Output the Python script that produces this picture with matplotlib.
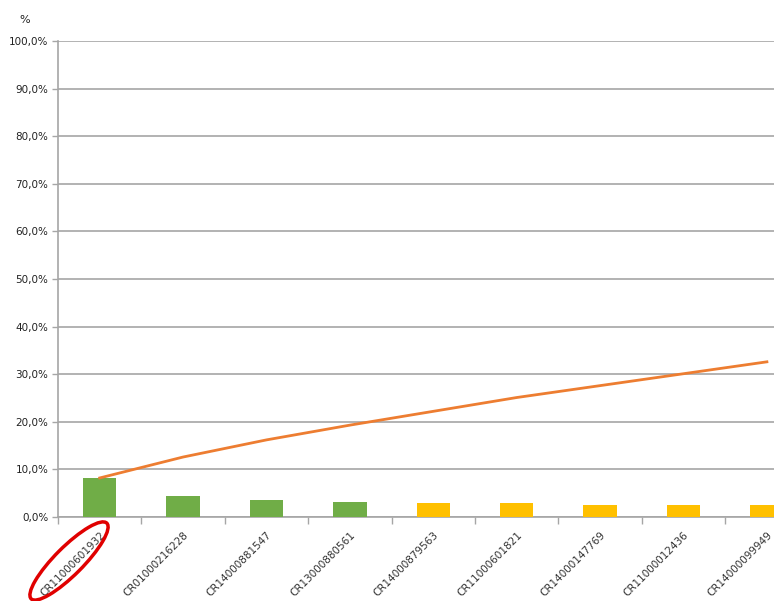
import matplotlib
matplotlib.use("Agg")
import matplotlib.pyplot as plt
from matplotlib.patches import Ellipse
import numpy as np

categories = ["CR11000601932", "CR01000216228", "CR14000881547", "CR13000880561",
              "CR14000879563", "CR11000601821", "CR14000147769", "CR11000012436",
              "CR14000099949"]
values = [8.2, 4.4, 3.6, 3.1, 2.9, 2.9, 2.5, 2.5, 2.5]
cumulative = [8.2, 12.6, 16.2, 19.3, 22.2, 25.1, 27.6, 30.1, 32.6]
bar_colors = ["#70AD47"] * 4 + ["#FFC000"] * 5
ytick_vals = list(range(0, 101, 10))
ytick_labels = [f"{v},0%" for v in ytick_vals]

fig = plt.figure(figsize=(7.74, 6.01), dpi=100)
ax = fig.add_axes([58/774, (601-517)/601, 1 - 58/774, (517-41)/601])

x = np.arange(len(categories))
ax.bar(x, values, width=0.4, color=bar_colors, zorder=3)
ax.plot(x, cumulative, color="#ED7D31", lw=2, zorder=4)

ax.set_yticks(ytick_vals)
ax.set_yticklabels(ytick_labels, fontsize=7.5, color="#222222")
ax.yaxis.grid(True, color="#A6A6A6", lw=1.2, zorder=0)
ax.set_axisbelow(True)

ax.set_xticks(x)
ax.set_xticklabels(categories, rotation=45, ha="right", rotation_mode="anchor",
                   fontsize=7.5, color="#333333")
ax.set_xticks(np.arange(-0.5, len(categories) + 0.5, 1), minor=True)
ax.tick_params(axis="x", which="major", length=0, pad=9)
ax.tick_params(axis="x", which="minor", length=5, color="#A6A6A6", width=1)
ax.tick_params(axis="y", length=4, color="#A6A6A6", width=1, pad=3)

ax.set_ylim(0, 100)
ax.set_xlim(-0.5, -0.5 + (774-58)/83.4)

for s in ["top", "right"]:
    ax.spines[s].set_visible(False)
ax.spines["left"].set_color("#A6A6A6")
ax.spines["bottom"].set_color("#A6A6A6")
ax.spines["left"].set_linewidth(1.2)
ax.spines["bottom"].set_linewidth(1.2)

fig.text(25/774, 1 - 20/601, "%", fontsize=8, color="#222222", ha="center", va="center")

ell = Ellipse((0.69, (601-561)/100), 1.07, 0.28, angle=45, fill=False,
              edgecolor="#E00000", lw=2.5, transform=fig.dpi_scale_trans, clip_on=False)
fig.add_artist(ell)

fig.savefig("out.png", dpi=100)
